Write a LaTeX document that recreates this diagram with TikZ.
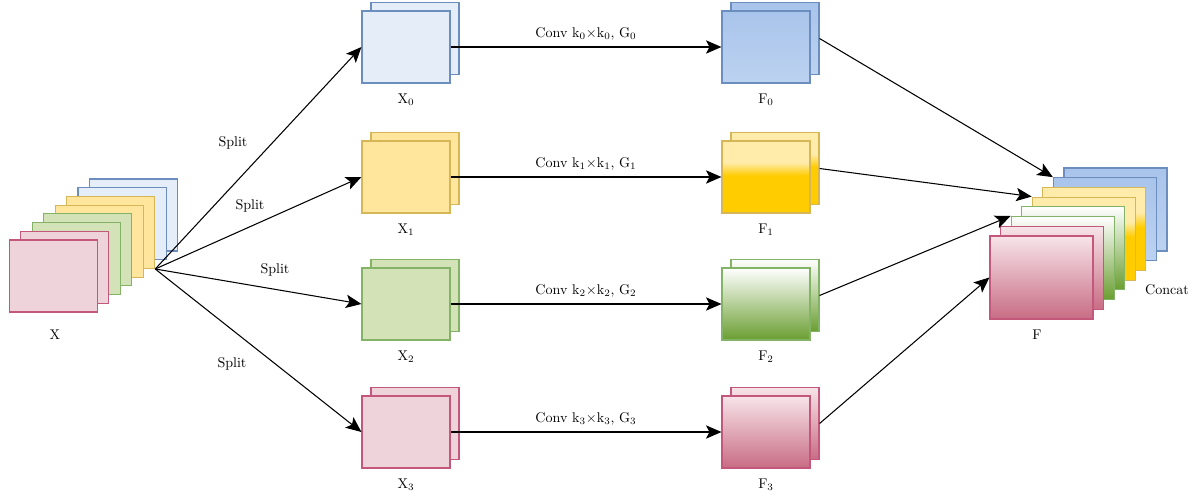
\documentclass[tikz,border=0pt]{standalone}
\usepackage{tikz, xcolor}
\usetikzlibrary{arrows.meta}
\tikzset{>={Stealth[length=11pt,width=9.5pt,inset=2.5pt]}}

\definecolor{bluedraw}{HTML}{6C8EBF}
\definecolor{bluefill}{HTML}{E4EDF8}
\definecolor{bluedeep}{HTML}{A9C4EB}
\definecolor{bluesoft}{HTML}{BCD2F0}
\definecolor{yeldraw}{HTML}{D6B656}
\definecolor{yelfill}{HTML}{FFE69C}
\definecolor{yelgold}{HTML}{FFCC00}
\definecolor{yellight}{HTML}{FFEBAA}
\definecolor{grndraw}{HTML}{82B366}
\definecolor{grnfill}{HTML}{D4E2B8}
\definecolor{grndeep}{HTML}{6A9E30}
\definecolor{pnkdraw}{HTML}{C4587C}
\definecolor{pnkfill}{HTML}{EFD3DA}
\definecolor{pnkdeep}{HTML}{C86C84}
\definecolor{pnklight}{HTML}{F7E4E9}

% gold fill that turns pale in the upper third
\pgfdeclareverticalshading{goldfade}{100bp}{color(0bp)=(yelgold); color(25bp)=(yelgold); color(51bp)=(yelgold); color(60bp)=(yellight); color(100bp)=(yellight)}

\tikzset{
  map/.style={rectangle, draw, line width=0.8pt, minimum width=2.2cm, minimum height=1.8cm, inner sep=0pt},
  bigmap/.style={map, minimum width=2.575cm, minimum height=2.075cm},
  xblue/.style={draw=bluedraw, fill=bluefill},
  xyel/.style={draw=yeldraw, fill=yelfill},
  xgrn/.style={draw=grndraw, fill=grnfill},
  xpnk/.style={draw=pnkdraw, fill=pnkfill},
  fblue/.style={draw=bluedraw, top color=bluedeep, bottom color=bluesoft},
  fyel/.style={draw=yeldraw, shading=goldfade},
  fgrn/.style={draw=grndraw, top color=white, bottom color=grndeep},
  fpnk/.style={draw=pnkdraw, top color=pnklight, bottom color=pnkdeep},
  flow/.style={->, line width=0.75pt},
}

\begin{document}
\begin{tikzpicture}[x=0.025cm, y=-0.025cm]
\useasboundingbox (0,0) rectangle (1200,497);

% input feature maps
\foreach \i/\s in {0/xblue,1/xblue,2/xyel,3/xyel,4/xgrn,5/xgrn,6/xpnk,7/xpnk}
  \node[map,\s] (in\i) at ({133.5-11.43*\i},{215+8.71*\i}) {};
\node (xlab) at (55,335) {X};
\coordinate (split) at (in2.south east);

% concatenated output
\foreach \i/\s in {0/fblue,1/fblue,2/fyel,3/fyel,4/fgrn,5/fgrn,6/fpnk,7/fpnk}
  \node[bigmap,\s] (cc\i) at ({1115.5-10.57*\i},{209.5+9.71*\i}) {};
\node (flab) at (1037,335) {F};
\node (cclab) at (1167,290) {Concat};

% one row per group
\foreach \i/\y/\s/\t in {0/47/xblue/fblue, 1/177/xyel/fyel, 2/304/xgrn/fgrn, 3/432/xpnk/fpnk} {
  \node[map,\s] (xb\i) at (415,\y-8.5) {};
  \node[map,\s] (x\i) at (406,\y) {};
  \node (xl\i) at (406,\y+53) {X$_\i$};
  \node[map,\t] (fb\i) at (775,\y-8.5) {};
  \node[map,\t] (f\i) at (766,\y) {};
  \node (fl\i) at (766,\y+53) {F$_\i$};
  \draw[flow] (x\i) -- node[above=1pt] {Conv k$_\i$$\times$k$_\i$, G$_\i$} (f\i);
  \draw[flow] (split) -- (x\i.west);
}

\node (sp0) at (233,143) {Split};
\node (sp1) at (250,206) {Split};
\node (sp2) at (275,270) {Split};
\node (sp3) at (232,364) {Split};

\draw[flow] (fb0.east) -- (cc1.north west);
\draw[flow] (fb1.east) -- (cc3.north west);
\draw[flow] (fb2.east) -- (cc5.north west);
\draw[flow] (fb3.east) -- (cc7.west);
\end{tikzpicture}
\end{document}
